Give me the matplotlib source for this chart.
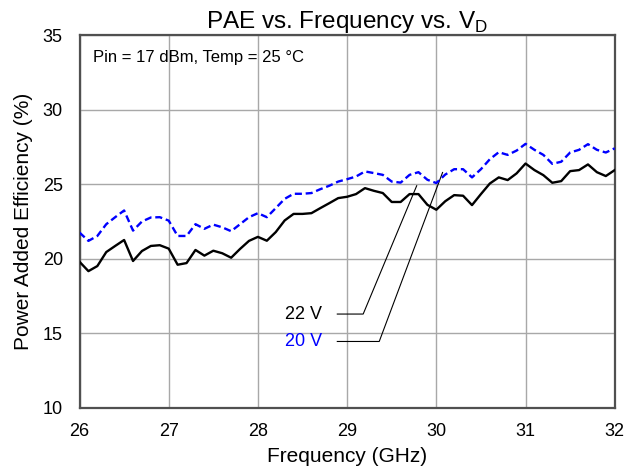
import numpy as np
import matplotlib
matplotlib.use("Agg")
import matplotlib.pyplot as plt

plt.rcParams['font.family'] = ['Liberation Sans', 'DejaVu Sans']

freq = np.round(np.arange(26.0, 32.0001, 0.1), 1)

pae_22v = [19.79, 19.16, 19.50, 20.44, 20.85, 21.25, 19.84, 20.51, 20.85, 20.90,
           20.67, 19.59, 19.70, 20.58, 20.20, 20.53, 20.36, 20.06, 20.65, 21.19,
           21.46, 21.20, 21.78, 22.56, 23.00, 23.00, 23.05, 23.39, 23.72, 24.06,
           24.15, 24.33, 24.73, 24.55, 24.40, 23.80, 23.80, 24.33, 24.33, 23.61,
           23.28, 23.85, 24.26, 24.22, 23.59, 24.33, 25.04, 25.45, 25.27, 25.72,
           26.38, 25.94, 25.60, 25.09, 25.20, 25.87, 25.94, 26.32, 25.80, 25.54,
           25.94]

pae_20v = [21.75, 21.19, 21.52, 22.31, 22.78, 23.23, 21.88, 22.49, 22.76, 22.78,
           22.55, 21.52, 21.52, 22.31, 22.00, 22.28, 22.10, 21.84, 22.31, 22.78,
           23.05, 22.78, 23.39, 24.01, 24.35, 24.35, 24.40, 24.66, 24.89, 25.17,
           25.33, 25.51, 25.85, 25.74, 25.62, 25.17, 25.10, 25.62, 25.80, 25.29,
           25.07, 25.64, 26.00, 26.00, 25.45, 26.00, 26.67, 27.14, 26.96, 27.25,
           27.70, 27.30, 26.96, 26.36, 26.50, 27.12, 27.30, 27.68, 27.30, 27.12,
           27.40]

x_ticks = [26, 27, 28, 29, 30, 31, 32]
y_ticks = [10, 15, 20, 25, 30, 35]

fig = plt.figure(figsize=(6.26, 4.74), dpi=100)
ax = fig.add_axes([0.127, 0.14, 0.855, 0.786])

ax.plot(freq, pae_22v, color='black', lw=1.7, zorder=3)
ax.plot(freq, pae_20v, color='#0000ff', lw=1.7, ls=(0, (3, 1.6)), zorder=3)

ax.set_xlim(26, 32)
ax.set_ylim(10, 35)
ax.set_xticks(x_ticks)
ax.set_yticks(y_ticks)
ax.tick_params(axis='y', length=0, labelsize=13, pad=12)
ax.tick_params(axis='x', length=0, labelsize=13, pad=11)
ax.grid(True, color='#a8a8a8', lw=1.0)
ax.set_axisbelow(True)
for s in ax.spines.values():
    s.set_color('#505050')
    s.set_linewidth(1.6)

ax.set_xlabel('Frequency (GHz)', fontsize=15, labelpad=5)
ax.set_ylabel('Power Added Efficiency (%)', fontsize=15, labelpad=7)
ax.set_title(r'PAE vs. Frequency vs. V$_\mathregular{D}$', fontsize=17.5, pad=3)

ax.text(0.025, 0.94, 'Pin = 17 dBm, Temp = 25 °C', transform=ax.transAxes,
        fontsize=12, va='center', ha='left')

# leader annotations
ax.plot([28.89, 29.18, 29.78], [16.28, 16.28, 24.89], color='black', lw=0.8)
ax.text(28.72, 16.28, '22 V', ha='right', va='center', fontsize=13, color='black')
ax.plot([28.89, 29.36, 30.07], [14.44, 14.44, 25.78], color='black', lw=0.8)
ax.text(28.72, 14.44, '20 V', ha='right', va='center', fontsize=13, color='#0000ff')

fig.savefig('out.png', dpi=100)
